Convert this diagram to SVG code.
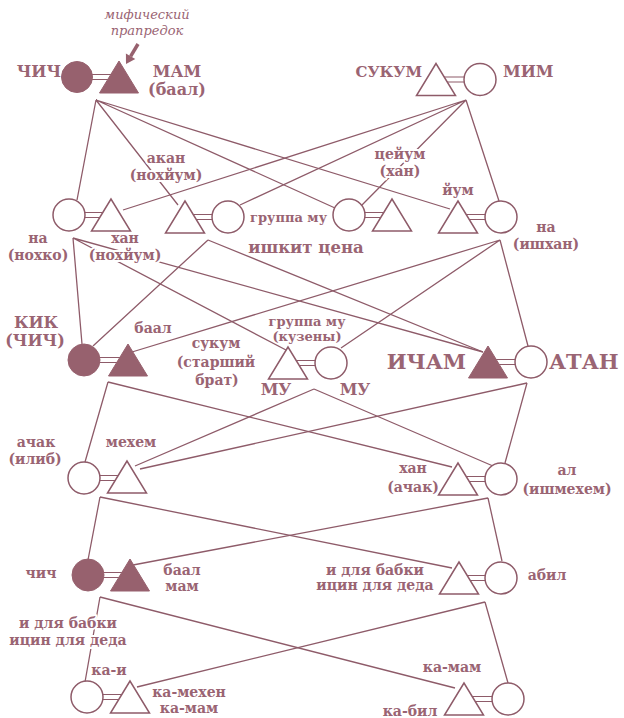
<svg xmlns="http://www.w3.org/2000/svg" width="624" height="718" viewBox="0 0 624 718">
<style>
.c{stroke:#8e5b69;stroke-width:1.3;fill:none}
.m{stroke:#8e5b69;stroke-width:1.2;fill:none}
.o{fill:#fff;stroke:#8e5b69;stroke-width:1.5}
.f{fill:#97616e;stroke:#97616e;stroke-width:1}
text{font-family:"DejaVu Serif","Liberation Serif",serif;font-weight:bold;fill:#9a6473;font-size:14px;text-anchor:middle}
.sm{font-size:13px}
.big{font-size:16px}
.huge{font-size:21px}
.it{font-style:italic;font-weight:normal;font-size:13px}
.h{paint-order:stroke;stroke:#fff;stroke-width:4px;stroke-linejoin:round}
.l{text-anchor:start}
.r{text-anchor:end}
</style>
<rect width="624" height="718" fill="#fff"/>
<g id="connectors">
<path class="m" d="M77,74.5H119M77,79.5H119 M436,77H480M436,82H480 M69,212.5H111M69,217.5H111 M185,214.5H228M185,219.5H228 M349,212.5H392M349,217.5H392 M458,214.5H501M458,219.5H501 M84,357.5H128M84,362.5H128 M288,360.5H331M288,365.5H331 M488,359.5H531M488,364.5H531 M84,475.5H127M84,480.5H127 M458,476.5H501M458,481.5H501 M88,572.5H130M88,577.5H130 M459,575.5H501M459,580.5H501 M87,694.5H130M87,699.5H130 M464,696.5H508M464,701.5H508"/>
<path class="c" d="M96,100L77,200M96,100L178,205M96,100L335,208M96,100L450,209"/>
<path class="c" d="M466,100L123,210M466,100L240,205M466,100L361,206M466,100L499,201"/>
<path class="c" d="M73,238L82,344M73,238L286,350M73,238L483,352"/>
<path class="c" d="M208,240L93,346M208,240L483,352"/>
<path class="c" d="M500,240L132,352M500,240L341,348M500,240L528,346"/>
<path class="c" d="M108,382L85,462M108,382L452,467"/>
<path class="c" d="M314,389L135,466M314,389L493,466"/>
<path class="c" d="M527,383L140,469M527,383L505,463"/>
<path class="c" d="M100,497L88,560M100,497L452,568"/>
<path class="c" d="M488,498L133,565M488,498L502,561"/>
<path class="c" d="M100,597L85,682M100,597L455,688"/>
<path class="c" d="M485,602L137,687M485,602L508,683"/>
</g>
<g id="annotation">
<text class="it" x="147" y="19">мифический</text>
<text class="it" x="147" y="35">прапредок</text>
<line x1="138" y1="44" x2="130.6" y2="56.3" stroke="#97616e" stroke-width="3.5"/>
<polygon points="126,64 135.3,59.1 125.9,53.5" fill="#97616e"/>
</g>
<g id="n-chich-top"><circle class="f" cx="77" cy="77" r="15.5"/><text class="big r" x="61" y="77">ЧИЧ</text></g>
<g id="n-mam-top"><polygon class="f" points="119,61 99.5,93 138.5,93"/><text class="big" x="177" y="77">МАМ</text><text class="big" x="177" y="95">(баал)</text></g>
<g id="n-sukum"><polygon class="o" points="436,63.5 416.5,95.5 455.5,95.5"/><text class="big r" x="422" y="77" style="font-size:15px">СУКУМ</text></g>
<g id="n-mim"><circle class="o" cx="480" cy="79.5" r="16"/><text class="big l" x="503" y="77">МИМ</text></g>
<g id="n-na-left"><circle class="o" cx="69" cy="215" r="16"/><text x="38" y="243">на</text><text x="38" y="260">(нохко)</text></g>
<g id="n-han-left"><polygon class="o" points="111,199 91.5,231 130.5,231"/><text class="h" x="125" y="243">хан</text><text class="h" x="125" y="260">(нохйум)</text></g>
<g id="n-akan"><polygon class="o" points="185,201 165.5,233 204.5,233"/><text class="h" x="166" y="163">акан</text><text class="h" x="166" y="180">(нохйум)</text></g>
<g id="n-gruppa-mu1"><circle class="o" cx="228" cy="217" r="16"/><text class="sm l" x="250" y="222">группа му</text></g>
<g id="n-gruppa-mu2"><circle class="o" cx="349" cy="215" r="16"/><text class="h" x="400" y="159">цейум</text><text class="h" x="400" y="176">(хан)</text></g>
<g id="n-tsejum"><polygon class="o" points="392,199 372.5,231 411.5,231"/></g>
<g id="n-ishkit"><text x="306" y="253" style="font-size:16.5px">ишкит цена</text></g>
<g id="n-jum"><polygon class="o" points="458,201 438.5,233 477.5,233"/><text x="458" y="195">йум</text></g>
<g id="n-na-right"><circle class="o" cx="501" cy="217" r="16"/><text x="546" y="232">на</text><text x="546" y="249">(ишхан)</text></g>
<g id="n-kik"><circle class="f" cx="84" cy="360" r="16"/><text class="big" x="36" y="328">КИК</text><text class="big" x="35" y="346">(ЧИЧ)</text></g>
<g id="n-baal-mid"><polygon class="f" points="128,344 108.5,376 147.5,376"/><text x="153" y="333">баал</text></g>
<g id="n-sukum-brat"><text x="216" y="348">сукум</text><text x="216" y="367">(старший</text><text x="217" y="385">брат)</text></g>
<g id="n-mu-tri"><polygon class="o" points="288,347 268.5,379 307.5,379"/><text class="big" x="276" y="395">МУ</text></g>
<g id="n-mu-circ"><circle class="o" cx="331" cy="363" r="16"/><text class="big" x="355" y="395">МУ</text><text class="sm" x="307" y="326">группа му</text><text class="sm" x="307" y="341">(кузены)</text></g>
<g id="n-icham"><polygon class="f" points="488,346 468.5,378 507.5,378"/><text class="huge r" x="466" y="369">ИЧАМ</text></g>
<g id="n-atan"><circle class="o" cx="531" cy="362" r="16"/><text class="huge l" x="549" y="369">АТАН</text></g>
<g id="n-achak"><circle class="o" cx="84" cy="478" r="16"/><text x="36" y="447">ачак</text><text x="35" y="464">(илиб)</text></g>
<g id="n-mehem"><polygon class="o" points="127,461 107.5,493 146.5,493"/><text x="131" y="447">мехем</text></g>
<g id="n-han-achak"><polygon class="o" points="458,463 438.5,495 477.5,495"/><text x="413" y="473">хан</text><text x="413" y="492">(ачак)</text></g>
<g id="n-al"><circle class="o" cx="501" cy="479" r="16"/><text x="567" y="475">ал</text><text x="567" y="494">(ишмехем)</text></g>
<g id="n-chich-low"><circle class="f" cx="88" cy="575" r="16"/><text x="41" y="578">чич</text><text class="h" x="68" y="628">и для бабки</text><text class="h" x="68" y="645">ицин для деда</text></g>
<g id="n-baal-mam"><polygon class="f" points="130,559 110.5,591 149.5,591"/><text x="182" y="575">баал</text><text x="182" y="591">мам</text></g>
<g id="n-icin"><polygon class="o" points="459,562 439.5,594 478.5,594"/><text x="375" y="575">и для бабки</text><text x="375" y="590">ицин для деда</text></g>
<g id="n-abil"><circle class="o" cx="501" cy="578" r="16"/><text x="547" y="580">абил</text></g>
<g id="n-ka-i"><circle class="o" cx="87" cy="697" r="16"/><text x="109" y="675">ка-и</text></g>
<g id="n-ka-mehen"><polygon class="o" points="130,681 110.5,713 149.5,713"/><text x="189" y="697">ка-мехен</text><text x="189" y="713">ка-мам</text></g>
<g id="n-ka-bil"><polygon class="o" points="464,683 444.5,715 483.5,715"/><text x="452" y="672">ка-мам</text><text x="410" y="716">ка-бил</text></g>
<g id="n-ka-circ"><circle class="o" cx="508" cy="699" r="16"/></g>
</svg>
